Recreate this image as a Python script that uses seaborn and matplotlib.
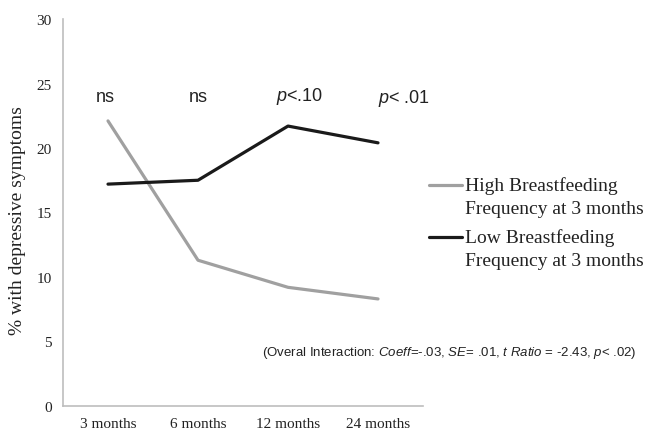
import matplotlib
matplotlib.use("Agg")
import matplotlib.pyplot as plt
import seaborn as sns
import pandas as pd

# dados
meses = ['3 months', '6 months', '12 months', '24 months']
alta_freq = [22.1, 11.3, 9.2, 8.3]
baixa_freq = [17.2, 17.5, 21.7, 20.4]
rotulo_alta = 'High Breastfeeding\nFrequency at 3 months'
rotulo_baixa = 'Low Breastfeeding\nFrequency at 3 months'
significancia = ['ns', 'ns', r'$\it{p}$<.10', r'$\it{p}$< .01']

df = pd.DataFrame({
    'mes': meses * 2,
    'valor': alta_freq + baixa_freq,
    'grupo': [rotulo_alta] * 4 + [rotulo_baixa] * 4,
})

sns.set_theme(style="white")
plt.rcParams['font.family'] = ['Liberation Serif', 'DejaVu Serif']
plt.rcParams['mathtext.fontset'] = 'custom'
plt.rcParams['mathtext.it'] = 'Liberation Sans:italic'
plt.rcParams['mathtext.rm'] = 'Liberation Sans'

fig = plt.figure(figsize=(6.46, 4.31), dpi=100)
ax = fig.add_axes([63 / 646, 24 / 431, 360 / 646, 387 / 431])

sns.lineplot(data=df, x='mes', y='valor', hue='grupo', sort=False,
             palette={rotulo_alta: '#a0a0a0', rotulo_baixa: '#1a1a1a'},
             linewidth=2.3, ax=ax)

ax.set_xlim(-0.5, 3.5)
ax.set_ylim(0, 30)
ax.set_yticks(range(0, 31, 5))
ax.set_xlabel('')
ax.set_ylabel('% with depressive symptoms', fontsize=14, color='#222222')
ax.yaxis.set_label_coords(-0.103, 0.483)
ax.tick_params(axis='both', length=0, labelsize=11, colors='#222222', pad=8)

for lado in ['top', 'right']:
    ax.spines[lado].set_visible(False)
for lado in ['left', 'bottom']:
    ax.spines[lado].set_color('#bdbdbd')
    ax.spines[lado].set_linewidth(1.2)

# rótulos de significância (levemente deslocados como no original)
desloc_x = [-0.03, 0.0, 0.13, 0.29]
desloc_y = [24.0, 24.0, 24.1, 23.9]
for i, s in enumerate(significancia):
    ax.text(i + desloc_x[i], desloc_y[i], s, ha='center', va='center', fontsize=13,
            family='Liberation Sans', color='#222222')

# interação geral
ax.text(1.71, 4.2,
        r'(Overal Interaction: $\it{Coeff}$=-.03, $\it{SE}$= .01, $\it{t\ Ratio}$ = -2.43, $\it{p}$< .02)',
        ha='left', va='center', fontsize=9.5, family='Liberation Sans',
        color='#222222', clip_on=False)

leg = ax.legend(loc='upper left', bbox_to_anchor=(429 / 646, 1 - 177 / 431),
                bbox_transform=fig.transFigure, frameon=False, fontsize=14,
                handlelength=1.7, handletextpad=0.15, borderpad=0, borderaxespad=0,
                labelspacing=0.56)
for t in leg.get_texts():
    t.set_color('#222222')
    t.set_linespacing(1.48)
# alinhando a linha da legenda com a primeira linha do texto
for linha in leg.get_lines():
    y = linha.get_ydata()
    linha.set_ydata([v + 8.3 for v in y])

fig.savefig('out.png', dpi=100)
